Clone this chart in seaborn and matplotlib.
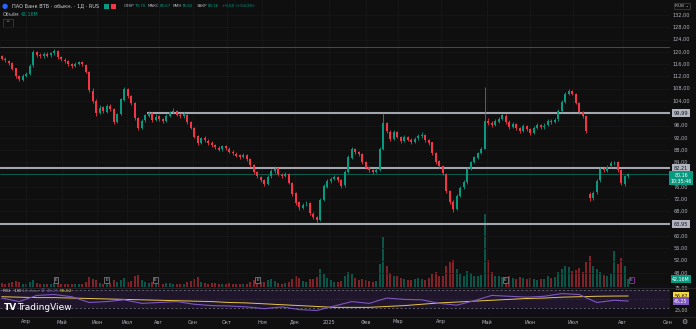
import numpy as np
import matplotlib
matplotlib.use("Agg")
import matplotlib.pyplot as plt
import seaborn as sns
from matplotlib.patches import Rectangle

sns.set_theme(style="dark")
plt.rcParams['font.family'] = ['DejaVu Sans']

# ---------------- data ----------------
opens = [118.6, 117.8, 117.1, 116.3, 114.6, 112.1, 111.0, 112.2, 112.9, 115.6,
         119.9, 119.1, 118.5, 119.3, 118.9, 119.5, 120.2, 118.3, 117.5, 117.0,
         116.1, 115.3, 116.1, 116.7, 115.8, 113.4, 107.4, 104.1, 100.2, 101.9,
         100.5, 102.5, 101.4, 97.3, 99.7, 104.4, 107.9, 105.5, 103.3, 98.5,
         95.1, 97.7, 99.2, 100.1, 97.9, 99.0, 98.0, 97.5, 99.1, 100.5,
         100.8, 99.5, 99.1, 99.5, 97.1, 95.2, 92.5, 90.3, 91.9, 91.1,
         90.4, 89.7, 88.8, 88.2, 89.3, 88.5, 87.5, 86.8, 86.3, 85.7,
         86.4, 85.0, 83.1, 80.9, 79.3, 78.3, 77.0, 79.4, 81.1, 82.1,
         80.0, 79.7, 80.3, 77.3, 73.9, 71.0, 69.2, 70.3, 70.7, 67.3,
         66.2, 65.3, 71.9, 76.1, 77.8, 78.7, 79.3, 78.2, 76.5, 81.0,
         85.5, 88.3, 87.3, 86.7, 84.0, 82.4, 81.5, 80.8, 81.6, 88.5,
         96.7, 94.0, 91.7, 93.9, 92.2, 91.1, 92.3, 91.3, 90.7, 91.8,
         92.5, 93.0, 91.2, 90.5, 86.9, 84.3, 82.7, 80.3, 74.7, 71.1,
         68.9, 73.2, 75.9, 77.5, 81.9, 84.1, 85.5, 87.0, 88.4, 97.5,
         96.9, 96.3, 97.3, 98.2, 99.2, 97.3, 95.5, 96.5, 95.2, 94.3,
         95.9, 94.8, 93.7, 95.2, 96.1, 95.5, 96.1, 97.5, 97.2, 98.0,
         100.9, 103.7, 106.3, 107.1, 106.3, 103.4, 100.3, 99.0, 73.6, 72.4,
         74.2, 78.1, 82.0, 81.3, 82.7, 83.7, 84.0, 81.5, 77.1, 79.70]
closes = [117.8, 117.2, 116.4, 114.5, 112.0, 111.2, 112.3, 112.8, 115.5, 119.8,
          119.0, 118.6, 119.4, 118.8, 119.6, 120.3, 118.2, 117.6, 116.9, 116.0,
          115.4, 116.2, 116.6, 115.9, 113.5, 107.5, 104.0, 100.0, 101.8, 100.6,
          102.4, 101.5, 97.2, 99.6, 104.5, 107.8, 105.6, 103.2, 98.4, 95.2,
          97.6, 99.3, 100.2, 97.8, 98.9, 98.1, 97.4, 99.2, 100.4, 100.9,
          99.4, 99.0, 99.6, 97.0, 95.3, 92.4, 90.2, 91.8, 91.2, 90.3,
          89.6, 88.9, 88.1, 89.2, 88.6, 87.4, 86.9, 86.2, 85.8, 86.3,
          85.1, 83.0, 80.8, 79.4, 78.2, 77.1, 79.3, 81.2, 82.0, 80.1,
          79.6, 80.2, 77.4, 73.8, 70.9, 69.3, 70.2, 70.6, 67.4, 66.1,
          65.2, 71.8, 76.2, 77.9, 78.6, 79.2, 78.3, 76.4, 80.9, 85.6,
          88.2, 87.4, 86.6, 84.1, 82.3, 81.6, 80.9, 81.5, 88.4, 96.8,
          94.1, 91.6, 93.8, 92.3, 91.0, 92.2, 91.4, 90.6, 91.7, 92.6,
          92.9, 91.3, 90.4, 87.0, 84.2, 82.8, 80.4, 74.6, 71.2, 68.8,
          73.1, 75.8, 77.6, 81.8, 84.0, 85.6, 86.9, 88.3, 97.6, 96.8,
          96.2, 97.4, 98.1, 99.3, 97.2, 95.6, 96.4, 95.3, 94.2, 95.8,
          94.9, 93.6, 95.1, 96.2, 95.4, 96.0, 97.6, 97.1, 97.9, 100.8,
          103.6, 106.2, 107.2, 106.4, 103.5, 100.4, 99.1, 94.2, 72.3, 74.1,
          78.0, 81.9, 81.4, 82.6, 83.8, 83.9, 81.6, 77.2, 79.66, 80.16]
highs = [119.0, 118.2, 117.5, 116.6, 114.9, 112.6, 112.9, 113.6, 116.0, 120.6,
         120.4, 119.7, 119.9, 119.8, 120.1, 120.9, 120.5, 118.8, 118.0, 117.3,
         116.4, 116.7, 117.1, 117.0, 116.0, 113.8, 108.2, 104.5, 102.6, 102.3,
         103.0, 103.1, 101.8, 100.2, 105.1, 108.6, 108.3, 106.0, 103.6, 98.9,
         98.2, 99.9, 100.8, 100.4, 99.6, 99.4, 98.5, 99.7, 100.9, 101.6,
         101.2, 100.0, 100.3, 99.8, 97.5, 95.6, 92.9, 92.4, 92.5, 91.6,
         90.9, 90.1, 89.3, 89.8, 89.7, 88.9, 87.9, 87.3, 86.7, 86.9,
         86.8, 85.4, 83.5, 81.3, 79.7, 78.6, 79.8, 81.8, 82.7, 82.4,
         80.6, 80.9, 80.6, 77.7, 74.2, 71.5, 70.9, 71.4, 71.0, 67.8,
         66.6, 72.4, 76.8, 78.5, 79.2, 79.9, 79.6, 78.6, 81.5, 86.3,
         88.9, 88.8, 87.8, 87.0, 84.4, 82.9, 81.9, 82.1, 89.0, 100.2,
         97.3, 94.5, 94.4, 94.2, 92.7, 92.8, 92.6, 91.8, 92.3, 93.2,
         93.8, 93.3, 91.7, 90.8, 87.3, 84.7, 83.1, 80.6, 75.1, 71.6,
         73.7, 76.4, 78.2, 82.4, 84.6, 86.2, 87.5, 88.9, 108.5, 98.4,
         97.5, 98.0, 98.7, 99.9, 99.6, 97.7, 97.0, 96.9, 95.6, 96.4,
         96.3, 95.2, 95.7, 96.8, 96.6, 96.7, 98.2, 98.0, 98.5, 101.4,
         104.2, 106.9, 108.0, 107.6, 106.7, 103.8, 100.8, 99.4, 74.2, 74.7,
         78.6, 82.5, 82.4, 83.2, 84.4, 84.5, 84.3, 81.9, 79.9, 80.67]
lows = [117.2, 116.6, 115.8, 114.0, 111.4, 110.4, 110.6, 111.8, 112.5, 115.2,
        118.3, 117.9, 118.0, 118.2, 118.4, 119.1, 117.8, 117.0, 116.3, 115.5,
        114.8, 115.0, 115.8, 115.4, 113.0, 106.8, 103.3, 99.2, 99.6, 100.0,
        100.1, 100.8, 96.5, 96.8, 99.3, 104.0, 105.0, 102.6, 97.8, 94.5,
        94.8, 97.2, 98.7, 97.2, 97.4, 97.6, 96.8, 97.1, 98.8, 100.0,
        99.0, 98.4, 98.6, 96.4, 94.8, 91.8, 89.5, 89.9, 90.6, 89.8,
        89.0, 88.3, 87.6, 87.8, 88.0, 86.9, 86.3, 85.6, 85.2, 85.3,
        84.6, 82.4, 80.2, 78.8, 77.6, 76.4, 76.7, 79.0, 80.6, 79.6,
        79.0, 79.2, 76.8, 73.2, 70.2, 68.6, 68.8, 69.7, 66.8, 65.5,
        64.5, 65.0, 71.4, 75.6, 77.2, 78.1, 77.7, 75.8, 76.1, 80.6,
        85.1, 86.8, 86.0, 83.5, 81.7, 81.0, 80.3, 80.4, 81.3, 88.1,
        93.5, 91.0, 91.3, 91.8, 90.4, 90.8, 90.9, 90.0, 90.3, 91.4,
        92.1, 90.8, 89.8, 86.4, 83.6, 82.2, 79.8, 74.0, 70.5, 67.9,
        68.5, 72.8, 75.4, 77.1, 81.4, 83.7, 85.1, 86.6, 88.2, 96.2,
        95.6, 95.9, 96.9, 97.8, 96.6, 95.0, 95.1, 94.7, 93.6, 93.9,
        94.3, 93.0, 93.3, 94.8, 94.9, 95.0, 95.7, 96.5, 96.8, 97.6,
        100.5, 103.3, 105.8, 105.8, 102.9, 99.8, 98.5, 93.6, 71.5, 71.9,
        73.8, 77.7, 80.8, 80.9, 82.3, 83.1, 81.0, 76.6, 76.2, 78.82]
volumes = [22, 18, 20, 25, 30, 26, 18, 16, 24, 34,
           20, 16, 18, 15, 17, 22, 20, 16, 14, 15,
           14, 16, 15, 18, 28, 52, 40, 34, 22, 18,
           16, 20, 35, 26, 38, 48, 28, 30, 55, 62,
           34, 24, 20, 26, 18, 16, 18, 20, 22, 18,
           16, 15, 14, 24, 30, 44, 50, 28, 20, 18,
           20, 22, 18, 16, 15, 20, 18, 16, 15, 14,
           18, 26, 34, 30, 28, 26, 36, 40, 30, 22,
           18, 20, 28, 42, 55, 46, 30, 26, 40, 44,
           52, 95, 70, 45, 35, 28, 26, 30, 55, 80,
           70, 45, 38, 42, 36, 30, 28, 32, 120, 260,
           110, 75, 60, 55, 45, 40, 38, 35, 40, 45,
           42, 38, 45, 70, 80, 60, 55, 110, 130, 140,
           95, 70, 60, 85, 75, 60, 55, 65, 380, 140,
           80, 60, 55, 50, 45, 55, 48, 42, 50, 45,
           40, 48, 42, 38, 40, 44, 55, 45, 50, 80,
           95, 110, 105, 85, 90, 100, 80, 130, 160, 110,
           95, 80, 65, 60, 70, 190, 120, 150, 110, 42.16]

rsi_x = [0, 5, 10, 15, 20, 25, 30, 35, 40, 45, 50, 55, 60, 65, 70, 75, 80, 85, 90,
         95, 100, 105, 110, 115, 120, 125, 130, 135, 140, 145, 150, 155, 160, 165,
         170, 175, 179]
rsi_vals = [52, 44, 58, 60, 55, 42, 44, 48, 40, 42, 44, 38, 35, 34, 32, 28, 32, 26, 24,
            34, 44, 40, 52, 49, 48, 40, 36, 46, 58, 56, 54, 56, 62, 60,
            42, 47, 45.25]
rsi_ma = [55, 54, 53, 53, 52, 51, 50, 49, 48, 47, 46, 45, 44, 42, 41, 39, 37, 35, 33,
          31, 31, 31, 33, 35, 38, 41, 43, 45, 47, 49, 51, 52, 54, 55,
          56, 56.5, 56.62]

month_pos = [6.9, 17.2, 27.2, 35.8, 44.9, 54.6, 64.4, 74.4, 83.8, 93.5,
             104.1, 113.2, 125.5, 138.6, 151.0, 163.2, 177.5]
month_labels = ['Апр', 'Май', 'Июн', 'Июл', 'Авг', 'Сен', 'Окт', 'Ноя', 'Дек', '2025',
                'Фев', 'Мар', 'Апр', 'Май', 'Июн', 'Июл', 'Авг']
price_ticks = [132, 128, 124, 120, 116, 112, 108, 104, 96, 92, 88, 84, 76, 72, 68,
               60, 56, 52, 48]
level_thin = 121.6
level_top = 99.99
level_mid = 82.21
level_low = 63.95
earnings_pos = [15.5, 30.0, 43.8, 73.2, 143.8]

# ---------------- style ----------------
UP, DN = '#089981', '#f23645'
BG = '#0f0f0f'
TXT = '#b2b5be'
W, H = 696, 329
PANE_R = 670


def fx(px):
    return px / W


def fy(py):
    return 1 - py / H


def fmt(v):
    return f"{v:.2f}".replace('.', ',')


fig = plt.figure(figsize=(W / 100, H / 100), dpi=100, facecolor=BG)

o = np.array(opens)
c = np.array(closes)
hi = np.array(highs)
lo = np.array(lows)
idx = np.arange(len(c))
cols = np.where(c >= o, UP, DN)
xlim = (-0.5, (PANE_R - 1.75) / 3.5)

# main pane
ax = fig.add_axes([0, fy(287), fx(PANE_R), 287 / H])
axv = ax.twinx()
ax.set_zorder(2)
axv.set_zorder(1)
ax.patch.set_visible(False)
axv.set_facecolor(BG)

axv.bar(idx, volumes, width=0.62, color=cols, alpha=0.5, linewidth=0)
axv.set_ylim(0, 1500)

for xm in month_pos:
    ax.axvline(xm, color='#1a1a1a', lw=0.5, zorder=0)
for pt in price_ticks:
    ax.axhline(pt, color='#181818', lw=0.5, zorder=0)

ax.axhline(level_thin, color='#4a4a4a', lw=0.7, zorder=1)
ax.hlines(level_top, 41.5, xlim[1], color='#a3a6af', lw=1.5, zorder=1)
ax.axhline(level_mid, color='#a3a6af', lw=1.5, zorder=1)
ax.axhline(level_low, color='#a3a6af', lw=1.5, zorder=1)
ax.axhline(c[-1], color=UP, lw=0.5, alpha=0.8, zorder=1)

ax.vlines(idx, lo, hi, colors=cols, lw=0.6, zorder=3)
ax.bar(idx, np.maximum(np.abs(c - o), 0.12), bottom=np.minimum(o, c), width=0.62,
       color=cols, linewidth=0, zorder=4)

ax.set_xlim(*xlim)
ax.set_ylim(43.4, 136.9)
axv.set_xlim(*xlim)
for a in (ax, axv):
    a.set_xticks([])
    a.set_yticks([])
    for s in a.spines.values():
        s.set_visible(False)

ytr = ax.get_yaxis_transform()
XL = 681 / PANE_R
for pt in price_ticks:
    ax.text(XL, pt, fmt(pt), transform=ytr, color=TXT, fontsize=3.6,
            ha='center', va='center', clip_on=False)
for lv in (level_top, level_mid, level_low):
    ax.text(XL, lv, fmt(lv), transform=ytr, color='#131722', fontsize=3.6,
            ha='center', va='center', clip_on=False, zorder=10,
            bbox=dict(boxstyle='square,pad=0.3', fc='#b2b5be', ec='none'))
ax.text(XL, c[-1] - 1.3, fmt(c[-1]) + '\n10:35:46', transform=ytr, color='white',
        fontsize=3.4, ha='center', va='center', clip_on=False, zorder=10,
        linespacing=1.3, bbox=dict(boxstyle='square,pad=0.3', fc=UP, ec='none'))
axv.text(XL, volumes[-1], fmt(volumes[-1]) + 'M', transform=axv.get_yaxis_transform(),
         color='white', fontsize=3.4, ha='center', va='center', clip_on=False, zorder=10,
         bbox=dict(boxstyle='square,pad=0.3', fc=UP, ec='none'))

for ep in earnings_pos:
    ax.text(ep, 45.7, 'E', color=TXT, fontsize=3.2, ha='center', va='center', zorder=6,
            bbox=dict(boxstyle='square,pad=0.25', fc=BG, ec='#8a8d96', lw=0.5))
ax.text(idx[-1] + 0.8, 45.7, 'E', color='#c38cf0', fontsize=3.2, ha='center', va='center',
        zorder=6, bbox=dict(boxstyle='square,pad=0.25', fc=BG, ec='#9c27b0', lw=0.6))

# RSI pane
axr = fig.add_axes([0, fy(316), fx(PANE_R), 30 / H])
axr.set_facecolor('#120e18')
axr.axhspan(30, 70, color='#7e57c2', alpha=0.12, lw=0)
axr.axhline(70, color='#787b86', lw=0.5, ls=(0, (3, 3)))
axr.axhline(30, color='#787b86', lw=0.5, ls=(0, (3, 3)))
axr.axhline(50, color='#5a5d66', lw=0.4, ls=(0, (1, 3)))
sns.lineplot(x=rsi_x, y=rsi_ma, ax=axr, color='#e8c547', lw=0.7)
sns.lineplot(x=rsi_x, y=rsi_vals, ax=axr, color='#7e57c2', lw=0.8)
axr.set_xlim(*xlim)
axr.set_ylim(11.5, 79.2)
axr.set_xticks([])
axr.set_yticks([])
axr.set_xlabel('')
axr.set_ylabel('')
for s in axr.spines.values():
    s.set_visible(False)
rtr = axr.get_yaxis_transform()
for rv in (75, 25):
    axr.text(XL, rv, fmt(rv), transform=rtr, color=TXT, fontsize=3.4,
             ha='center', va='center', clip_on=False)
axr.text(XL, rsi_ma[-1], fmt(rsi_ma[-1]), transform=rtr, color='#131722', fontsize=3.4,
         ha='center', va='center', clip_on=False, zorder=10,
         bbox=dict(boxstyle='square,pad=0.25', fc='#f5d742', ec='none'))
axr.text(XL, rsi_vals[-1], fmt(rsi_vals[-1]), transform=rtr, color='white', fontsize=3.4,
         ha='center', va='center', clip_on=False, zorder=10,
         bbox=dict(boxstyle='square,pad=0.25', fc='#7e57c2', ec='none'))

# separators
fig.add_artist(plt.Line2D([0, 1], [fy(287.5), fy(287.5)], color='#2a2a2a', lw=0.6))
fig.add_artist(plt.Line2D([0, 1], [fy(316.5), fy(316.5)], color='#2a2a2a', lw=0.6))

# time axis
for mp, ml in zip(month_pos, month_labels):
    px = (mp + 0.5) * 3.5
    fig.text(fx(px), fy(322), ml, color=TXT, fontsize=3.6, ha='center', va='center')
fig.text(fx(668), fy(322), 'Сен', color=TXT, fontsize=3.6, ha='center', va='center')
fig.text(fx(684), fy(322), '⚙', color=TXT, fontsize=5, ha='center', va='center')

# header
fig.text(fx(2), fy(6), '●', color='#2962ff', fontsize=5, ha='left', va='center')
fig.text(fx(12), fy(6), 'ПАО Банк ВТБ · обыкн. · 1Д · RUS', color='#d1d4dc',
         fontsize=3.6, ha='left', va='center')
fig.add_artist(Rectangle((fx(104), fy(9)), fx(5), 5 / H, transform=fig.transFigure,
                         fc=UP, ec='none'))
fig.add_artist(Rectangle((fx(111), fy(9)), fx(5), 5 / H, transform=fig.transFigure,
                         fc=DN, ec='none'))
chg = c[-1] - c[-2]
pct = chg / c[-2] * 100
hdr = [(124, 'ОТКР', TXT), (134.5, fmt(o[-1]), UP), (148, 'МАКС', TXT), (159.5, fmt(hi[-1]), UP),
       (173, 'МИН', TXT), (181.5, fmt(lo[-1]), UP), (197, 'ЗАКР', TXT), (207.5, fmt(c[-1]), UP),
       (222, f"+{fmt(chg)} (+{fmt(pct)}%)", UP)]
for xp, t, col in hdr:
    fig.text(fx(xp), fy(6), t, color=col, fontsize=2.9, ha='left', va='center')
fig.text(fx(3), fy(14), 'Объём', color=TXT, fontsize=3.4, ha='left', va='center')
fig.text(fx(21), fy(14), fmt(volumes[-1]) + 'M', color=UP, fontsize=3.4, ha='left', va='center')
fig.add_artist(Rectangle((fx(3), fy(27)), fx(10), 8 / H, transform=fig.transFigure,
                         fc=BG, ec='#444444', lw=0.5))
fig.text(fx(8), fy(23), '^', color=TXT, fontsize=3.6, ha='center', va='center')
fig.text(fx(682), fy(6), 'RUB ⌄', color=TXT, fontsize=3.2, ha='center', va='center',
         bbox=dict(boxstyle='square,pad=0.3', fc=BG, ec='#444444', lw=0.5))

# RSI header and logo
fig.text(fx(3), fy(291), 'RSI · 1W', color='#d1d4dc', fontsize=3.2, ha='left', va='center')
fig.text(fx(22), fy(291), '14 close', color='#787b86', fontsize=3.0, ha='left', va='center')
fig.text(fx(41), fy(291), '⊘', color='#7e57c2', fontsize=3.4, ha='left', va='center')
fig.text(fx(47), fy(291), fmt(rsi_vals[-1]), color='#7e57c2', fontsize=3.2, ha='left', va='center')
fig.text(fx(60), fy(291), fmt(rsi_ma[-1]), color='#f5d742', fontsize=3.2, ha='left', va='center')
fig.text(fx(4), fy(307), 'TV', color='white', fontsize=6.5, weight='bold', ha='left', va='center')
fig.text(fx(17), fy(307), 'TradingView', color='white', fontsize=6.5, ha='left', va='center')

fig.savefig('out.png', dpi=100, facecolor=BG)
